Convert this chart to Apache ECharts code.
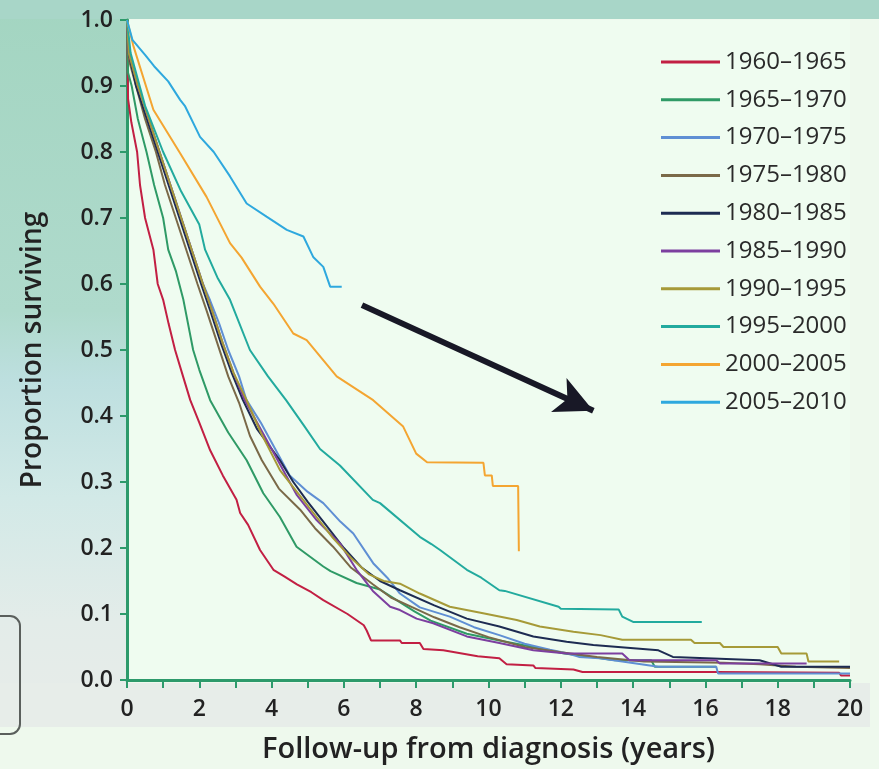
<!DOCTYPE html>
<html>
<head>
<meta charset="utf-8">
<script src="https://cdn.jsdelivr.net/npm/echarts@6/dist/echarts.min.js"></script>
<style>
  html, body { margin: 0; padding: 0; background: #eef9ed; }
  #chart { width: 879px; height: 769px; }
</style>
</head>
<body>
<div id="chart"></div>
<script>
// periods of diagnosis
const periods = ['1960–1965', '1965–1970', '1970–1975', '1975–1980', '1980–1985',
  '1985–1990', '1990–1995', '1995–2000', '2000–2005', '2005–2010'];

// [years, proportion surviving]
const s1960 = [[0,1],[0.03,0.88],[0.12,0.845],[0.28,0.8],[0.36,0.75],[0.5,0.7],[0.73,0.652],[0.85,0.6],[1.0,0.576],
  [1.15,0.54],[1.33,0.5],[1.55,0.46],[1.75,0.424],[2.0,0.39],[2.3,0.348],[2.65,0.31],[3.03,0.273],[3.13,0.253],
  [3.35,0.235],[3.68,0.197],[4.05,0.167],[4.35,0.157],[4.7,0.145],[5.1,0.133],[5.43,0.121],[6.1,0.1],[6.55,0.083],
  [6.63,0.075],[6.75,0.06],[7.55,0.06],[7.6,0.056],[8.1,0.056],[8.2,0.047],[8.75,0.045],[9.7,0.036],[10.3,0.033],
  [10.5,0.024],[11.24,0.022],[11.3,0.018],[12.35,0.016],[12.6,0.012],[16.3,0.012],[19.7,0.011],[19.75,0.007],[20,0.007]];
const s1965 = [[0,1],[0.03,0.92],[0.13,0.9],[0.3,0.85],[0.54,0.8],[0.75,0.75],[1.0,0.7],[1.14,0.652],[1.35,0.62],
  [1.56,0.576],[1.83,0.5],[2.0,0.47],[2.3,0.424],[2.8,0.375],[3.31,0.333],[3.77,0.283],[4.23,0.247],[4.69,0.202],
  [5.43,0.172],[5.63,0.165],[6.35,0.147],[7.0,0.137],[7.95,0.104],[8.4,0.09],[9.4,0.07],[10.3,0.06],[11.24,0.05],
  [12.1,0.04],[13.1,0.033],[13.5,0.03],[14.5,0.03],[14.6,0.02],[16.3,0.02]];
const s1970 = [[0,1],[0.05,0.95],[0.3,0.9],[0.6,0.85],[0.9,0.8],[1.2,0.75],[1.5,0.7],[1.8,0.65],[2.1,0.6],[2.3,0.575],
  [2.55,0.54],[2.8,0.5],[3.1,0.46],[3.3,0.425],[3.7,0.39],[4.1,0.35],[4.5,0.31],[5.0,0.285],[5.43,0.268],[5.9,0.24],
  [6.26,0.222],[6.81,0.177],[7.2,0.155],[7.55,0.131],[8.1,0.11],[8.93,0.096],[9.6,0.08],[10.3,0.068],[11.0,0.055],
  [11.7,0.046],[12.2,0.04],[12.5,0.035],[13.08,0.033],[13.7,0.028],[14.7,0.02],[16.3,0.02],[16.35,0.01],[20,0.01]];
const s1975 = [[0,1],[0.05,0.94],[0.25,0.9],[0.5,0.85],[0.8,0.8],[1.05,0.75],[1.35,0.7],[1.65,0.65],[1.95,0.6],
  [2.2,0.56],[2.5,0.51],[2.8,0.46],[3.1,0.42],[3.4,0.37],[3.73,0.333],[4.2,0.29],[4.79,0.258],[5.2,0.23],[5.7,0.202],
  [6.2,0.17],[6.8,0.145],[7.3,0.125],[7.9,0.11],[8.5,0.095],[9.2,0.08],[10.0,0.065],[11.0,0.05],[12.0,0.042],
  [13.0,0.035],[14.3,0.028],[16.5,0.026],[17.5,0.024],[18.5,0.02],[20,0.018]];
const s1980 = [[0,1],[0.05,0.95],[0.25,0.9],[0.55,0.85],[0.85,0.8],[1.15,0.75],[1.45,0.7],[1.75,0.65],[2.05,0.6],
  [2.3,0.56],[2.6,0.51],[2.9,0.465],[3.2,0.425],[3.6,0.38],[4.23,0.333],[4.6,0.3],[5.0,0.27],[5.5,0.235],[6.0,0.2],
  [6.5,0.17],[7.0,0.15],[7.55,0.136],[8.5,0.113],[9.4,0.093],[10.3,0.081],[11.24,0.066],[12.16,0.058],[12.9,0.053],
  [14.7,0.045],[15.1,0.035],[17.5,0.03],[18.1,0.02],[20,0.02]];
const s1985 = [[0,1],[0.05,0.95],[0.3,0.9],[0.6,0.85],[0.9,0.8],[1.2,0.75],[1.5,0.7],[1.8,0.65],[2.1,0.6],[2.35,0.56],
  [2.65,0.51],[2.95,0.465],[3.25,0.425],[3.7,0.38],[4.2,0.33],[4.7,0.28],[5.25,0.242],[5.89,0.207],[6.35,0.167],
  [6.8,0.135],[7.28,0.111],[7.55,0.106],[8.01,0.093],[8.47,0.086],[9.4,0.066],[10.3,0.056],[11.24,0.045],
  [12.16,0.04],[13.7,0.04],[13.9,0.03],[16.3,0.03],[16.4,0.025],[18.8,0.025]];
const s1990 = [[0,1],[0.05,0.95],[0.3,0.9],[0.6,0.85],[0.9,0.8],[1.2,0.75],[1.5,0.7],[1.8,0.65],[2.1,0.6],[2.35,0.56],
  [2.65,0.51],[2.95,0.465],[3.3,0.425],[3.7,0.375],[4.23,0.318],[4.7,0.285],[5.2,0.25],[5.7,0.215],[6.2,0.185],
  [6.7,0.16],[7.1,0.15],[7.55,0.146],[8.1,0.131],[8.93,0.111],[9.85,0.101],[10.78,0.091],[11.42,0.081],[12.35,0.073],
  [13.1,0.068],[13.7,0.061],[15.6,0.061],[15.7,0.056],[16.4,0.056],[16.5,0.05],[18.0,0.05],[18.1,0.04],[18.8,0.04],
  [18.85,0.028],[19.7,0.028]];
const s1995 = [[0,1],[0.1,0.95],[0.5,0.87],[1.0,0.8],[1.5,0.74],[2.0,0.69],[2.16,0.652],[2.5,0.61],[2.85,0.576],
  [3.4,0.5],[3.9,0.46],[4.4,0.424],[4.9,0.385],[5.34,0.35],[5.89,0.325],[6.8,0.273],[7.0,0.268],[8.1,0.217],
  [8.42,0.206],[8.66,0.197],[9.4,0.167],[9.8,0.155],[10.3,0.136],[10.45,0.135],[11.94,0.111],[12.0,0.108],
  [13.6,0.107],[13.7,0.096],[14.0,0.088],[15.9,0.088]];
const s2000 = [[0,1],[0.17,0.962],[0.73,0.864],[1.47,0.798],[2.2,0.732],[2.85,0.662],[3.17,0.64],[3.68,0.596],
  [4.05,0.57],[4.6,0.525],[4.97,0.515],[5.8,0.46],[6.81,0.424],[7.64,0.384],[8.0,0.343],[8.3,0.33],[9.86,0.329],
  [9.9,0.31],[10.09,0.31],[10.12,0.294],[10.82,0.294],[10.84,0.195]];
const s2005 = [[0,1],[0.15,0.97],[0.5,0.947],[0.75,0.93],[1.14,0.907],[1.47,0.879],[1.6,0.87],[2.02,0.823],
  [2.4,0.8],[2.85,0.763],[3.31,0.722],[3.86,0.702],[4.42,0.682],[4.88,0.672],[5.15,0.641],[5.43,0.626],
  [5.62,0.596],[5.94,0.596]];

const allSeries = [s1960, s1965, s1970, s1975, s1980, s1985, s1990, s1995, s2000, s2005];
const colors = ['#c21f43', '#2f9a66', '#5f8fd4', '#7a6948', '#1d2b52', '#7c3f9f', '#a69a38', '#22aa9e', '#f4a531', '#2ea8de'];

// arrow drawn in data space
const arrowFrom = [6.5, 0.568];
const arrowTo = [12.9, 0.408];

const labelFont = 'Open Sans';

const option = {
  animation: false,
  backgroundColor: '#eef9ed',
  graphic: [
    {
      type: 'rect', z: -100, silent: true,
      shape: { x: 0, y: 0, width: 127, height: 690 },
      style: {
        fill: new echarts.graphic.LinearGradient(0, 0, 0, 1, [
          { offset: 0, color: '#a3d5c1' },
          { offset: 0.45, color: '#afdacc' },
          { offset: 0.55, color: '#bddfdf' },
          { offset: 0.72, color: '#d2e9e7' },
          { offset: 0.9, color: '#e3ece9' },
          { offset: 1, color: '#e6ece9' }
        ])
      }
    },
    {
      type: 'rect', z: -100, silent: true,
      shape: { x: 0, y: 0, width: 879, height: 19 },
      style: { fill: '#a8d6c8' }
    },
    {
      type: 'rect', z: -100, silent: true,
      shape: { x: 0, y: 683, width: 870, height: 44 },
      style: { fill: '#e7ede9' }
    },
    {
      type: 'rect', z: -99, silent: true,
      shape: { x: -22, y: 616, width: 42, height: 118, r: 10 },
      style: { fill: 'none', stroke: '#5a5f5c', lineWidth: 2 }
    }
  ],
  grid: {
    left: 127,
    right: 29,
    top: 20,
    bottom: 89,
    show: true,
    backgroundColor: '#effcf0',
    borderWidth: 0
  },
  legend: {
    orient: 'vertical',
    left: 656,
    top: 45,
    icon: 'rect',
    itemWidth: 59,
    itemHeight: 3,
    itemGap: 13.8,
    textStyle: { fontFamily: labelFont, fontSize: 24, color: '#2a2a2a', lineHeight: 20 },
    data: periods
  },
  xAxis: {
    type: 'value',
    min: 0,
    max: 20,
    interval: 2,
    name: 'Follow-up from diagnosis (years)',
    nameLocation: 'middle',
    nameGap: 55,
    nameTextStyle: { fontFamily: labelFont, fontSize: 29, fontWeight: 600, color: '#222' },
    axisLine: { lineStyle: { color: '#2d9a6b', width: 3 } },
    axisTick: { show: true, length: 8, lineStyle: { color: '#2d9a6b', width: 2 } },
    minorTick: { show: true, splitNumber: 2, length: 8, lineStyle: { color: '#2d9a6b', width: 2 } },
    axisLabel: { fontFamily: labelFont, fontSize: 23, fontWeight: 600, color: '#222', margin: 18 },
    splitLine: { show: false }
  },
  yAxis: {
    type: 'value',
    min: 0,
    max: 1,
    interval: 0.1,
    name: 'Proportion surviving',
    nameLocation: 'middle',
    nameGap: 80,
    nameTextStyle: { fontFamily: labelFont, fontSize: 28, fontWeight: 600, color: '#222' },
    axisLine: { show: true, lineStyle: { color: '#2d9a6b', width: 3 } },
    axisTick: { show: true, length: 7, lineStyle: { color: '#2d9a6b', width: 2 } },
    axisLabel: {
      fontFamily: labelFont, fontSize: 23, fontWeight: 600, color: '#222', margin: 14,
      formatter: v => v.toFixed(1)
    },
    splitLine: { show: false }
  },
  series: allSeries.map((d, i) => ({
    name: periods[i],
    type: 'line',
    data: d,
    color: colors[i],
    symbol: 'none',
    lineStyle: { width: 2, color: colors[i] },
    markLine: i === 0 ? {
      silent: true,
      symbol: ['none', 'arrow'],
      symbolSize: [28, 38],
      label: { show: false },
      lineStyle: { color: '#181826', width: 6, type: 'solid' },
      data: [[{ coord: arrowFrom }, { coord: arrowTo }]]
    } : undefined
  }))
};

const chartDom = document.getElementById('chart');
const myChart = echarts.init(chartDom);
option && myChart.setOption(option);
</script>
</body>
</html>
